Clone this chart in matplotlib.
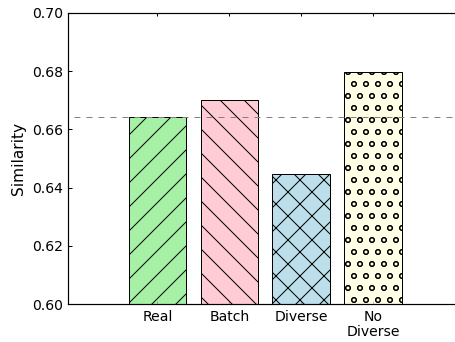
import matplotlib
matplotlib.use("Agg")
import matplotlib.pyplot as plt
from matplotlib.colors import to_rgba

categories = ["Real", "Batch", "Diverse", "No\nDiverse"]
values = [0.6644, 0.6700, 0.6446, 0.6796]
baseline = 0.6644
colors = ["lightgreen", "pink", "lightblue", "lightyellow"]
hatches = ["//", "\\\\", "xx", "oo"]
yticks = [0.60, 0.62, 0.64, 0.66, 0.68, 0.70]

plt.rcParams["hatch.linewidth"] = 0.5
plt.rcParams["font.family"] = "DejaVu Sans"

dpi = 144
fig = plt.figure(figsize=(455 / dpi, 342 / dpi), dpi=dpi)
ax = fig.add_axes([67.5 / 455, 38 / 342, (463 - 67.5) / 455, 291 / 342])

x = list(range(len(categories)))
for xi, v, c, h in zip(x, values, colors, hatches):
    ax.bar(xi, v - 0.6, bottom=0.6, width=0.8, facecolor=to_rgba(c, 0.8),
           edgecolor="black", linewidth=0.5, hatch=h, zorder=2)

ax.axhline(baseline, color="gray", linewidth=0.5, linestyle=(6, (6, 6)),
           dash_capstyle="butt", zorder=3)

ax.set_xlim(-1.25, 4.25)
ax.set_ylim(0.60, 0.70)
ax.set_yticks(yticks)
ax.set_yticklabels([f"{t:.2f}" for t in yticks])
ax.set_xticks(x)
ax.set_xticklabels(categories, fontsize=7, linespacing=1.1)
ax.tick_params(axis="y", labelsize=7, direction="in", length=2, width=0.5,
               pad=2.2, right=True)
ax.tick_params(axis="x", direction="in", length=1.5, width=0.5, pad=2.8, top=True)
for s in ax.spines.values():
    s.set_linewidth(0.6)

ax.set_ylabel("Similarity", fontsize=7.7)
ax.yaxis.set_label_coords(-0.106, 0.5)

fig.savefig("out.png", dpi=dpi)
